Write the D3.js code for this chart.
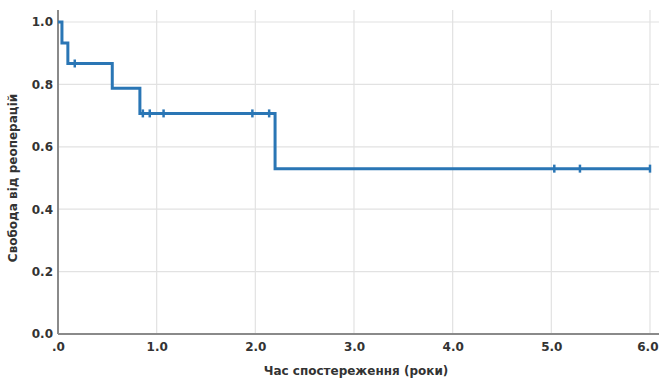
<!DOCTYPE html>
<html>
<head>
<meta charset="utf-8">
<script src="https://cdn.jsdelivr.net/npm/d3@7"></script>
<style>
  body { margin: 0; background: #fff; }
  svg text { font-family: "DejaVu Sans", sans-serif; font-weight: bold; fill: #333; }
</style>
</head>
<body>
<div id="chart"></div>
<script>
// Kaplan-Meier step curve (time in years, survival)
var stepTimes = [0, 0.04, 0.10, 0.55, 0.83, 2.20, 6.0];
var stepValues = [1.0, 0.933, 0.867, 0.788, 0.707, 0.53, 0.53];
// censored observations
var censorTimes = [0.17, 0.86, 0.93, 1.07, 1.97, 2.14, 5.03, 5.29, 6.0];
var xTicks = [0, 1, 2, 3, 4, 5, 6];
var xTickLabels = [".0", "1.0", "2.0", "3.0", "4.0", "5.0", "6.0"];
var yTicks = [0, 0.2, 0.4, 0.6, 0.8, 1.0];

var W = 659, H = 381;
var margin = {top: 22, right: 9, bottom: 47, left: 58};

var x = d3.scaleLinear().domain([0, 6]).range([margin.left, W - margin.right]);
var y = d3.scaleLinear().domain([0, 1]).range([H - margin.bottom, margin.top]);

var svg = d3.select("#chart").append("svg")
    .attr("width", W).attr("height", H);

// grid
svg.append("g").selectAll("line").data(yTicks.filter(d => d > 0)).enter().append("line")
    .attr("x1", x(0)).attr("x2", W)
    .attr("y1", d => y(d)).attr("y2", d => y(d))
    .attr("stroke", "#e2e2e2").attr("stroke-width", 1.2);
svg.append("g").selectAll("line").data(xTicks.filter(d => d > 0)).enter().append("line")
    .attr("x1", d => x(d)).attr("x2", d => x(d))
    .attr("y1", 10).attr("y2", y(0))
    .attr("stroke", "#e2e2e2").attr("stroke-width", 1.2);

// axes
var xAxis = d3.axisBottom(x).tickValues(xTicks)
    .tickFormat((d, i) => xTickLabels[i]).tickSize(0).tickPadding(8);
var gx = svg.append("g").attr("transform", "translate(0," + y(0) + ")").call(xAxis);
gx.select(".domain").remove();
gx.selectAll("text").style("font-size", "12px");
// keep the last label inside the window
gx.selectAll("text").filter(d => d === 6)
    .attr("text-anchor", "end").attr("dx", (W - 1 - x(6)) + "px");

var yAxis = d3.axisLeft(y).tickValues(yTicks)
    .tickFormat(d3.format(".1f")).tickSize(0).tickPadding(5);
var gy = svg.append("g").attr("transform", "translate(" + x(0) + ",0)").call(yAxis);
gy.select(".domain").remove();
gy.selectAll("text").style("font-size", "12px");

svg.append("line")
    .attr("x1", x(0)).attr("x2", W).attr("y1", y(0)).attr("y2", y(0))
    .attr("stroke", "#8a8a8a").attr("stroke-width", 2);
svg.append("line")
    .attr("x1", x(0)).attr("x2", x(0)).attr("y1", 10).attr("y2", y(0))
    .attr("stroke", "#8a8a8a").attr("stroke-width", 2);

// survival curve
var pts = stepTimes.map((t, i) => [t, stepValues[i]]);
var line = d3.line().x(d => x(d[0])).y(d => y(d[1])).curve(d3.curveStepAfter);
svg.append("path").datum(pts)
    .attr("d", line)
    .attr("fill", "none")
    .attr("stroke", "#2a76b5")
    .attr("stroke-width", 3);

function survAt(t) {
    var v = stepValues[0];
    for (var i = 0; i < stepTimes.length; i++) if (stepTimes[i] <= t) v = stepValues[i];
    return v;
}
svg.append("g").selectAll("line").data(censorTimes).enter().append("line")
    .attr("x1", d => x(d)).attr("x2", d => x(d))
    .attr("y1", d => y(survAt(d)) - 4).attr("y2", d => y(survAt(d)) + 4)
    .attr("stroke", "#2a76b5").attr("stroke-width", 2.5);

// titles
svg.append("text")
    .attr("x", 356).attr("y", 375)
    .attr("text-anchor", "middle")
    .style("font-size", "12px")
    .text("Час спостереження (роки)");
svg.append("text")
    .attr("transform", "translate(17," + 178 + ") rotate(-90)")
    .attr("text-anchor", "middle")
    .style("font-size", "12px")
    .text("Свобода від реоперацій");
</script>
</body>
</html>
